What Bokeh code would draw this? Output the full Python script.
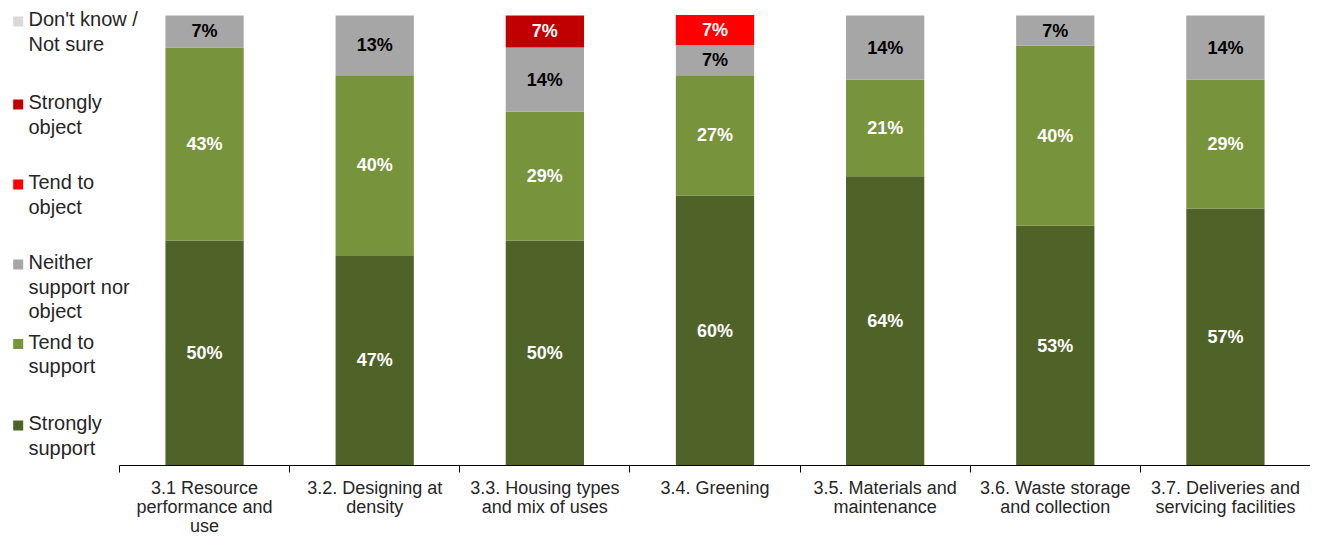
from bokeh.plotting import figure
from bokeh.models import ColumnDataSource, FixedTicker, Range1d
from bokeh.core.properties import value
from bokeh.embed import file_html
from bokeh.resources import INLINE

categories = ["3.1 Resource\nperformance and\nuse", "3.2. Designing at\ndensity",
              "3.3. Housing types\nand mix of uses", "3.4. Greening",
              "3.5. Materials and\nmaintenance", "3.6. Waste storage\nand collection",
              "3.7. Deliveries and\nservicing facilities"]
series_names = ["Strongly\nsupport", "Tend to\nsupport", "Neither\nsupport nor\nobject",
                "Tend to\nobject", "Strongly\nobject", "Don't know /\nNot sure"]
strongly_support = [50.0, 46.7, 50.0, 60.0, 64.3, 53.3, 57.1]
tend_to_support = [42.9, 40.0, 28.6, 26.7, 21.4, 40.0, 28.6]
neither = [7.1, 13.3, 14.3, 6.7, 14.3, 6.7, 14.3]
tend_to_object = [0, 0, 0, 6.7, 0, 0, 0]
strongly_object = [0, 0, 7.1, 0, 0, 0, 0]
dont_know = [0, 0, 0, 0, 0, 0, 0]
colors = ["#4F6228", "#77933C", "#A6A6A6", "#FF0000", "#C00000", "#D9D9D9"]
label_colors = ["white", "white", "black", "white", "white", "black"]

FONT = "Liberation Sans"
W, H = 1320, 538
PLOT_LEFT, PLOT_RIGHT, PLOT_TOP, PLOT_BOTTOM = 119, 1310, 15, 465

series = [strongly_support, tend_to_support, neither, tend_to_object, strongly_object, dont_know]
keys = ["s%d" % i for i in range(len(series))]
n = len(categories)
xs = [i + 0.5 for i in range(n)]

# pixel <-> data mapping (frame covers the whole canvas)
ux = (PLOT_RIGHT - PLOT_LEFT) / n
uy = (PLOT_BOTTOM - PLOT_TOP) / 100.0
x_start = -PLOT_LEFT / ux
x_end = n + (W - 10 - PLOT_RIGHT) / ux
y_end = 100 + PLOT_TOP / uy
y_start = -(H - PLOT_BOTTOM) / uy


def px_x(px):
    return x_start + px / ux


def px_y(py):
    return 100 - (py - PLOT_TOP) / uy


data = {"x": xs}
for k, s in zip(keys, series):
    data[k] = s
src = ColumnDataSource(data)

p = figure(width=W - 10, height=H, x_range=Range1d(x_start, x_end), y_range=Range1d(y_start, y_end),
           toolbar_location=None, output_backend="svg", y_axis_location=None, min_border=0)
p.outline_line_color = None
p.xgrid.visible = False
p.ygrid.visible = False

p.vbar_stack(keys, x="x", width=0.46, color=colors, line_color=None, source=src)

# data labels
lx, ly, lt, lc = [], [], [], []
for i in range(n):
    base = 0.0
    for j, s in enumerate(series):
        v = s[i]
        if v > 0:
            lx.append(xs[i]); ly.append(base + v / 2); lt.append("%d%%" % round(v)); lc.append(label_colors[j])
        base += v
lsrc = ColumnDataSource(dict(x=lx, y=ly, t=lt, c=lc))
p.text(x="x", y="y", text="t", text_color="c", source=lsrc, text_align="center",
       text_baseline="middle", text_font=value(FONT), text_font_size="18px",
       text_font_style="bold")

ax = p.xaxis[0]
ax.fixed_location = 0
ax.bounds = (0, n)
ax.ticker = FixedTicker(ticks=xs, minor_ticks=list(range(n + 1)))
ax.major_label_overrides = {x: c for x, c in zip(xs, categories)}
ax.major_tick_line_color = None
ax.major_tick_out = 0
ax.major_tick_in = 0
ax.minor_tick_out = 7
ax.minor_tick_in = 0
ax.minor_tick_line_color = "#000000"
ax.axis_line_color = "#000000"
ax.major_label_text_font = FONT
ax.major_label_text_font_size = "18px"
ax.major_label_text_color = "#262626"
ax.major_label_text_line_height = 0.97
ax.major_label_standoff = 5

# legend (drawn at the left of the chart)
leg_line_center = [423.5, 342, 262.5, 182.5, 102.5, 19.5]
lgsrc = ColumnDataSource(dict(
    x=[px_x(17.7)] * 6, y=[px_y(c + 1.5) for c in leg_line_center],
    tx=[px_x(28)] * 6, ty=[px_y(c - 12) for c in leg_line_center],
    c=colors, t=series_names))
p.scatter(x="x", y="y", marker="square", size=10, color="c", line_color=None, source=lgsrc)
p.text(x="tx", y="ty", text="t", source=lgsrc, text_align="left", text_baseline="top",
       text_font=value(FONT), text_font_size="20px", text_color="#262626", text_line_height=1.12)

open("out.html", "w").write(file_html(p, INLINE))
